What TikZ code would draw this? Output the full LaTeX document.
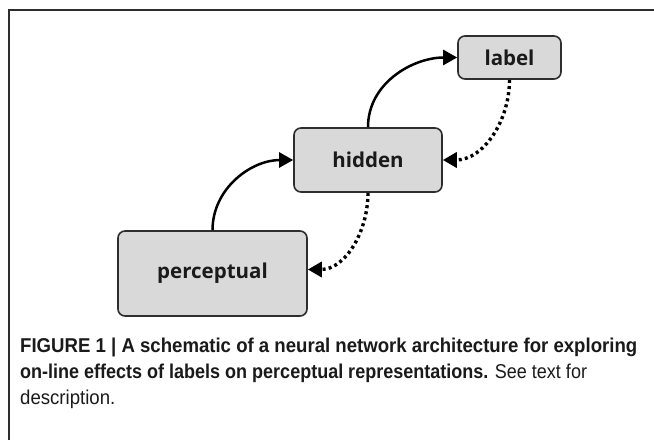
\documentclass[tikz,border=0pt]{standalone}
\usepackage{fontspec}
\setmainfont{Liberation Sans}
\newfontfamily\boxfont{Open Sans}
\usetikzlibrary{arrows.meta}
\definecolor{boxgray}{HTML}{D9D9D9}
\definecolor{edgegray}{HTML}{2E2E2E}
\definecolor{capblack}{HTML}{1A1A1A}
\tikzset{
  unit/.style={draw=edgegray, line width=1.6pt, fill=boxgray, rounded corners=7pt,
    font=\boxfont\bfseries\fontsize{20.5}{23}\selectfont, text=capblack, inner sep=0pt},
  fwd/.style={line width=2.5pt, draw=black, -{Triangle[length=14pt,width=15pt]}},
  back/.style={line width=3.4pt, draw=black, dash pattern=on 3pt off 3.2pt,
    -{Triangle[length=14pt,width=15pt]}},
  capline/.style={anchor=base west, inner sep=0pt, text=capblack,
    font=\fontsize{20}{24}\selectfont}
}
\begin{document}
\begin{tikzpicture}[x=1pt,y=-1pt]
\useasboundingbox (0,0) rectangle (654,440);
\fill[white] (0,0) rectangle (654,440);
% frame
\draw[line width=1.5pt, draw=edgegray] (9,440) -- (9,10) -- (654,10);
% nodes
\node[unit, minimum width=103pt, minimum height=43pt] (label) at (509.5,57.5) {label};
\node[unit, minimum width=148pt, minimum height=64pt] (hidden) at (368,160) {hidden};
\node[unit, minimum width=189pt, minimum height=85pt] (perc) at (212.5,273.5) {perceptual};
% connectors
\draw[fwd] (perc.north) to[out=90,in=180] (hidden.west);
\draw[fwd] (hidden.north) to[out=90,in=180] (label.west);
\draw[back] (label.south) to[out=-90,in=0] (hidden.east);
\draw[back] (hidden.south) to[out=-90,in=0] ([yshift=4pt]perc.east);
% caption
\node[capline] (c1) at (20,352) {\scalebox{0.93}[1]{\bfseries FIGURE 1 | A schematic of a neural network architecture for exploring}};
\node[capline] (c2) at (20,378) {\scalebox{0.9}[1]{\bfseries on-line effects of labels on perceptual representations.\mdseries{} See text for}};
\node[capline] (c3) at (20,404) {\scalebox{0.93}[1]{description.}};
\end{tikzpicture}
\end{document}
